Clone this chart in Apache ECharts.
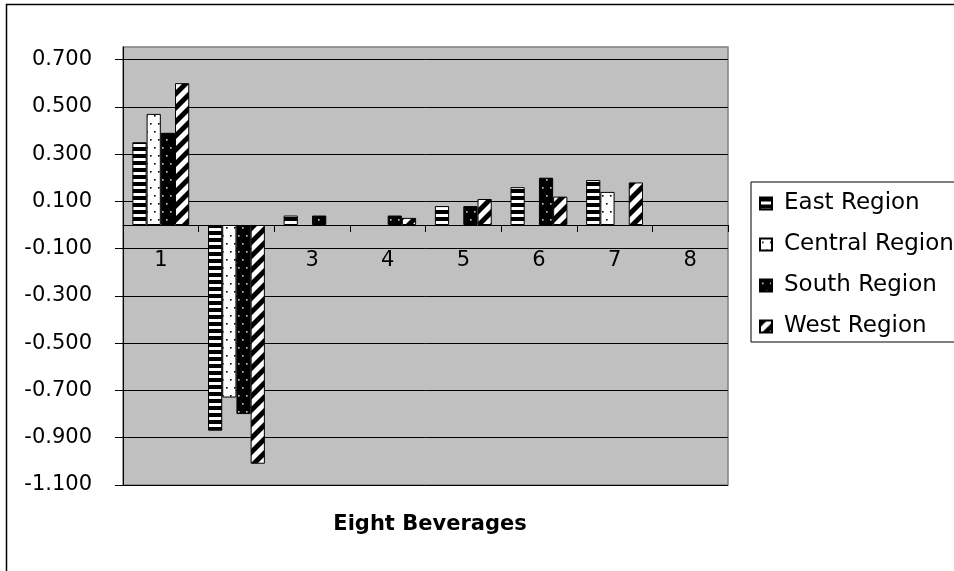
<!DOCTYPE html>
<html>
<head>
<meta charset="utf-8">
<script src="https://cdn.jsdelivr.net/npm/echarts@6/dist/echarts.min.js"></script>
<style>
html,body{margin:0;padding:0;background:#fff;}
#chart{width:954px;height:571px;}
</style>
</head>
<body>
<div id="chart"></div>
<script>
// ---- data ----
var categories = ['1', '2', '3', '4', '5', '6', '7', '8'];
var seriesNames = ['East Region', 'Central Region', 'South Region', 'West Region'];
var eastValues    = [0.35, -0.87, 0.04, null, 0.08, 0.16, 0.19, null];
var centralValues = [0.47, -0.73, null, null, null, null, 0.14, null];
var southValues   = [0.39, -0.80, 0.04, 0.04, 0.08, 0.20, null, null];
var westValues    = [0.60, -1.01, null, 0.03, 0.11, 0.12, 0.18, null];
var yTickLabels = [-1.1, -0.9, -0.7, -0.5, -0.3, -0.1, 0.1, 0.3, 0.5, 0.7];
var xTitle = 'Eight Beverages';

// ---- patterns ----
function makeCanvas(w, h) {
  var c = document.createElement('canvas');
  c.width = w; c.height = h;
  return c;
}
function hStripes() {
  var c = makeCanvas(8, 7), g = c.getContext('2d');
  g.fillStyle = '#fff'; g.fillRect(0, 0, 8, 7);
  g.fillStyle = '#000'; g.fillRect(0, 0, 8, 4);
  return c;
}
function dots(bg, fg) {
  var c = makeCanvas(8, 16), g = c.getContext('2d');
  g.fillStyle = bg; g.fillRect(0, 0, 8, 16);
  g.fillStyle = fg;
  g.fillRect(2, 3, 1.6, 1.6);
  g.fillRect(6, 11, 1.6, 1.6);
  return c;
}
function diag() {
  var s = 14, c = makeCanvas(s, s), g = c.getContext('2d');
  g.fillStyle = '#fff'; g.fillRect(0, 0, s, s);
  g.fillStyle = '#000';
  g.beginPath(); g.moveTo(0, 0); g.lineTo(7, 0); g.lineTo(0, 7); g.closePath(); g.fill();
  g.beginPath(); g.moveTo(14, 0); g.lineTo(14, 7); g.lineTo(7, 14); g.lineTo(0, 14); g.closePath(); g.fill();
  return c;
}
var patterns = [
  { image: hStripes(), repeat: 'repeat' },
  { image: dots('#ffffff', '#000000'), repeat: 'repeat' },
  { image: dots('#000000', '#d0d0d0'), repeat: 'repeat' },
  { image: diag(), repeat: 'repeat' }
];
var allValues = [eastValues, centralValues, southValues, westValues];

var FONT = 'DejaVu Sans';
var GRID = { left: 123, top: 47, right: 226, bottom: 86 };
var chart = echarts.init(document.getElementById('chart'), null, { renderer: 'canvas' });

var series = seriesNames.map(function (name, i) {
  return {
    name: name,
    type: 'bar',
    data: allValues[i],
    barWidth: '18.8%',
    barGap: '0%',
    itemStyle: { color: patterns[i], borderColor: '#000', borderWidth: 1 },
    emphasis: { disabled: true }
  };
});

function isTick(v) {
  for (var i = 0; i < yTickLabels.length; i++) {
    if (Math.abs(yTickLabels[i] - v) < 1e-6) return true;
  }
  return false;
}

chart.setOption({
  animation: false,
  backgroundColor: '#fff',
  textStyle: { fontFamily: FONT },
  graphic: [{
    type: 'rect',
    shape: { x: 6.5, y: 4.5, width: 1200, height: 1200 },
    style: { fill: 'none', stroke: '#000', lineWidth: 1.5 },
    silent: true,
    z: -10
  }],
  title: {
    text: xTitle,
    left: 430,
    top: 514,
    padding: 0,
    textAlign: 'center',
    textStyle: { fontFamily: FONT, fontSize: 21, fontWeight: 'bold', color: '#000' }
  },
  legend: {
    orient: 'vertical',
    left: 751,
    top: 182,
    padding: [10, 12, 4, 8],
    itemGap: 18,
    itemWidth: 12,
    itemHeight: 12,
    icon: 'rect',
    backgroundColor: '#fff',
    borderColor: '#000',
    borderWidth: 1,
    borderRadius: 0,
    selectedMode: false,
    textStyle: { fontFamily: FONT, fontSize: 23, lineHeight: 23, color: '#000', padding: [0, 0, 0, 7] },
    data: seriesNames
  },
  grid: {
    left: GRID.left, top: GRID.top, right: GRID.right, bottom: GRID.bottom,
    show: true,
    backgroundColor: '#c0c0c0',
    borderColor: '#808080',
    borderWidth: 1.5,
    containLabel: false
  },
  xAxis: {
    type: 'category',
    data: categories,
    boundaryGap: true,
    offset: 0,
    axisLine: { onZero: false, lineStyle: { color: '#000', width: 1 } },
    axisTick: { show: true, length: 7, lineStyle: { color: '#000' } },
    axisLabel: { fontFamily: FONT, fontSize: 21, color: '#000', margin: 25 },
    splitLine: { show: false }
  },
  yAxis: {
    type: 'value',
    min: -1.1,
    max: 0.753,
    interval: 0.2,
    axisLine: { show: true, lineStyle: { color: '#000', width: 1 } },
    axisTick: { show: true, length: 8, lineStyle: { color: '#000' }, customValues: yTickLabels },
    axisLabel: {
      fontFamily: FONT, fontSize: 21, color: '#000', margin: 31,
      customValues: yTickLabels,
      formatter: function (v) { return isTick(v) ? v.toFixed(3) : ''; }
    },
    splitLine: { show: true, lineStyle: { color: '#000', width: 1 } }
  },
  series: series
});

// place the category axis (line, ticks, labels) on the value axis's zero
var zeroY = chart.convertToPixel({ yAxisIndex: 0 }, 0);
var bottomY = 571 - GRID.bottom;
chart.setOption({ xAxis: { offset: -(bottomY - zeroY) } });
</script>
</body>
</html>
